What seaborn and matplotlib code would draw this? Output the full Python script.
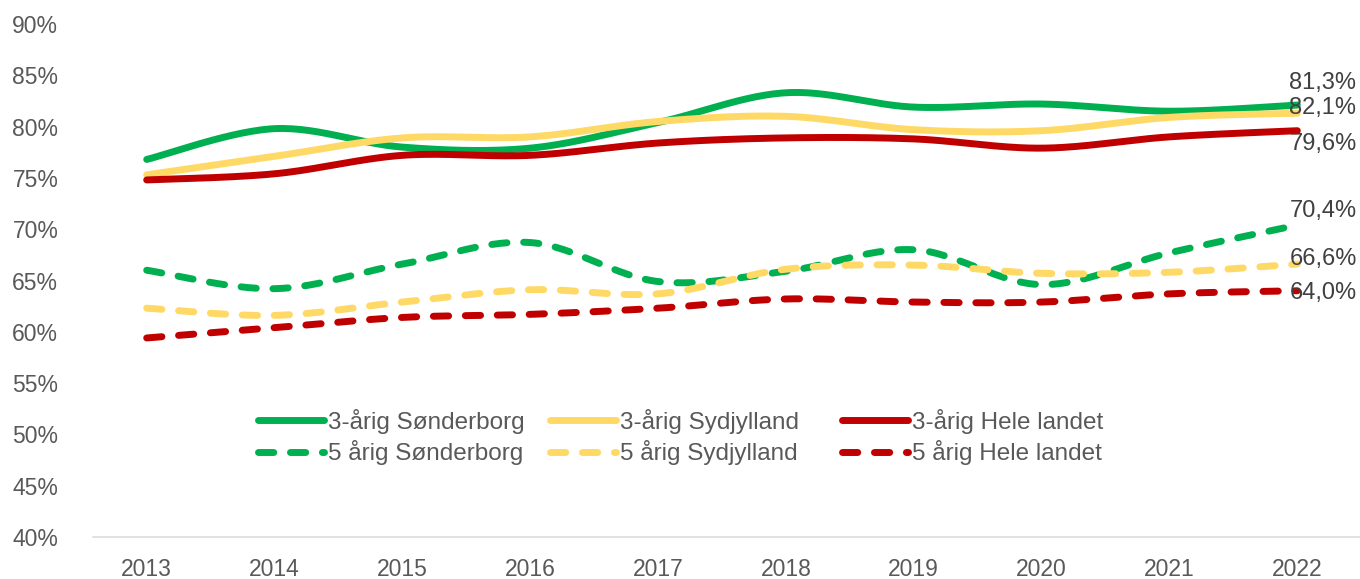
import numpy as np
import pandas as pd
import matplotlib.pyplot as plt
import seaborn as sns
from matplotlib.lines import Line2D

# Data (percent)
years = [2013, 2014, 2015, 2016, 2017, 2018, 2019, 2020, 2021, 2022]
sonderborg_3 = [76.8, 79.8, 78.0, 77.9, 80.4, 83.3, 81.9, 82.2, 81.5, 82.1]
sydjylland_3 = [75.3, 77.1, 78.9, 79.0, 80.5, 81.0, 79.7, 79.6, 80.9, 81.3]
landet_3 = [74.8, 75.4, 77.2, 77.2, 78.4, 78.9, 78.8, 77.9, 79.0, 79.6]
sonderborg_5 = [66.0, 64.2, 66.6, 68.7, 64.9, 65.9, 68.0, 64.6, 67.7, 70.4]
sydjylland_5 = [62.3, 61.6, 62.9, 64.1, 63.7, 66.1, 66.5, 65.7, 65.8, 66.6]
landet_5 = [59.4, 60.4, 61.4, 61.7, 62.3, 63.2, 62.9, 62.9, 63.7, 64.0]
labels = ["3-årig Sønderborg", "3-årig Sydjylland", "3-årig Hele landet",
          "5 årig Sønderborg", "5 årig Sydjylland", "5 årig Hele landet"]

GREEN, YELLOW, RED = "#00B050", "#FFD966", "#C00000"


def smooth(xs, ys, n=30):
    # Catmull-Rom curve through the points, like Excel's smoothed line
    x = np.asarray(xs, float)
    y = np.asarray(ys, float)
    px = np.concatenate([[x[0]], x, [x[-1]]])
    py = np.concatenate([[y[0]], y, [y[-1]]])
    out_x, out_y = [], []
    t = np.linspace(0, 1, n, endpoint=False)
    for i in range(1, len(px) - 2):
        p0, p1, p2, p3 = py[i - 1], py[i], py[i + 1], py[i + 2]
        q0, q1, q2, q3 = px[i - 1], px[i], px[i + 1], px[i + 2]
        c1y, c2y = p1 + (p2 - p0) / 6, p2 - (p3 - p1) / 6
        c1x, c2x = q1 + (q2 - q0) / 6, q2 - (q3 - q1) / 6
        b = [(1 - t) ** 3, 3 * (1 - t) ** 2 * t, 3 * (1 - t) * t ** 2, t ** 3]
        out_x.extend(b[0] * q1 + b[1] * c1x + b[2] * c2x + b[3] * q2)
        out_y.extend(b[0] * p1 + b[1] * c1y + b[2] * c2y + b[3] * p2)
    out_x.append(x[-1])
    out_y.append(y[-1])
    return np.array(out_x), np.array(out_y)


sns.set_style("white")
plt.rcParams["font.family"] = ["Liberation Sans", "DejaVu Sans"]

fig = plt.figure(figsize=(13.6, 5.79), dpi=100)
ax = fig.add_axes([93 / 1360, 42 / 579, 1 - 93 / 1360, 513 / 579])

xpos = np.arange(len(years))
LW = 5.0
DASH = (0, (2.2, 2.4))

series = [
    (sonderborg_3, GREEN, "-"), (sydjylland_3, YELLOW, "-"), (landet_3, RED, "-"),
    (sonderborg_5, GREEN, DASH), (sydjylland_5, YELLOW, DASH), (landet_5, RED, DASH),
]
# offsets (pixels) of the end labels relative to the last point
label_offsets = [(-8, -3), (-8, 30), (-8, -13), (-8, 14), (-8, 5), (-8, -2)]

handles = []
for (vals, color, ls), name, off in zip(series, labels, label_offsets):
    sx, sy = smooth(xpos, vals)
    df = pd.DataFrame({"x": sx, "y": sy})
    sns.lineplot(data=df, x="x", y="y", sort=False, estimator=None, ax=ax,
                 color=color, lw=LW, linestyle=ls,
                 solid_capstyle="round", dash_capstyle="round")
    handles.append(Line2D([], [], color=color, lw=LW, linestyle=ls,
                          solid_capstyle="round", dash_capstyle="round"))
    ax.annotate(f"{vals[-1]:.1f}%".replace(".", ","), xy=(xpos[-1], vals[-1]),
                xytext=off, textcoords="offset pixels", ha="left", va="center",
                fontsize=17, color="#404040")

ax.set_xlim(-0.42, 9.49)
ax.set_ylim(40, 90)
ax.set_xticks(xpos)
ax.set_xticklabels([str(y) for y in years])
ax.set_yticks(np.arange(40, 91, 5))
ax.set_yticklabels([f"{v}%" for v in range(40, 91, 5)])
ax.set_xlabel("")
ax.set_ylabel("")
ax.tick_params(axis="both", length=0, labelsize=16.5, labelcolor="#595959")
ax.tick_params(axis="x", pad=15)
ax.tick_params(axis="y", pad=25)
for side in ["top", "right", "left"]:
    ax.spines[side].set_visible(False)
ax.spines["bottom"].set_color("#D9D9D9")
ax.spines["bottom"].set_linewidth(1.1)
ax.grid(False)

# legend: three columns of two entries, equal column widths
col_x = [258, 550, 842]
for i, cx in enumerate(col_x):
    leg = fig.legend([handles[i], handles[i + 3]], [labels[i], labels[i + 3]],
                     loc="center left", bbox_to_anchor=(cx / 1360, 1 - 437 / 579),
                     frameon=False, fontsize=17.5, handlelength=2.7,
                     handletextpad=0.2, labelspacing=0.28, borderpad=0,
                     borderaxespad=0)
    for txt in leg.get_texts():
        txt.set_color("#595959")

fig.savefig("out.png", dpi=100)
